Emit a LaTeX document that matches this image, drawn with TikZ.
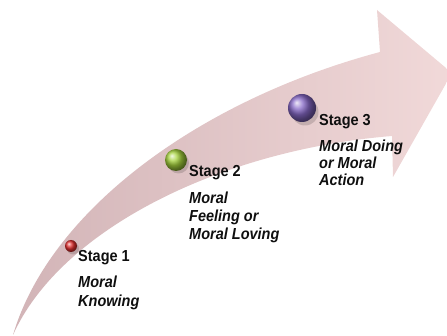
\documentclass[tikz,border=0pt]{standalone}
\usepackage{fontspec}
\setmainfont{Liberation Sans}
\usetikzlibrary{shadings}
\definecolor{arrowdark}{RGB}{210,180,183}
\definecolor{arrowmid}{RGB}{229,203,204}
\definecolor{arrowlight}{RGB}{241,217,217}
\definecolor{txt}{RGB}{15,15,15}
\definecolor{ballred}{RGB}{225,45,45}
\definecolor{ballgreen}{RGB}{165,210,60}
\definecolor{ballpurple}{RGB}{135,105,200}
\tikzset{
  stagetitle/.style={anchor=base west, inner sep=0pt, text=txt, font=\fontsize{14.5}{18}\selectfont\bfseries, yscale=1.1},
  stagetext/.style={anchor=base west, inner sep=0pt, text=txt, font=\fontsize{14.5}{18}\selectfont\bfseries\itshape, yscale=1.1},
  ball/.style={circle, inner sep=0pt, minimum size=#1, shading=ball},
  ballshadow/.style={fill=black, opacity=0.15}
}
\begin{document}
\begin{tikzpicture}[x=1pt, y=-1pt]
\useasboundingbox (0,0) rectangle (447,336);
\begin{scope}
\clip (0,0) rectangle (447,336);
\shade[left color=arrowdark, middle color=arrowmid, right color=arrowlight]
  (13,335) .. controls (50,210) and (200,100) .. (380,52)
  -- (377,10) -- (452,73) -- (393,177) -- (392,136)
  .. controls (220,150) and (60,230) .. (13,335) -- cycle;
\end{scope}
% ball shadows
\fill[ballshadow] (73,248.5) circle (6);
\fill[ballshadow] (178.5,163) circle (10.5);
\fill[ballshadow] (305,112) circle (13.5);
% balls
\node[ball=12pt, ball color=ballred] (b1) at (71,246) {};
\node[ball=22pt, ball color=ballgreen] (b2) at (176,160) {};
\node[ball=28pt, ball color=ballpurple] (b3) at (302,108) {};
% texts
\node[stagetitle] (s1) at (78,262) {Stage 1};
\node[stagetext] (s1a) at (78,288) {Moral};
\node[stagetext] (s1b) at (78,307) {Knowing};
\node[stagetitle] (s2) at (189,177) {Stage 2};
\node[stagetext] (s2a) at (189,204) {Moral};
\node[stagetext] (s2b) at (189,222) {Feeling or};
\node[stagetext] (s2c) at (189,240) {Moral Loving};
\node[stagetitle] (s3) at (319,126) {Stage 3};
\node[stagetext] (s3a) at (319,152) {Moral Doing};
\node[stagetext] (s3b) at (319,169) {or Moral};
\node[stagetext] (s3c) at (319,186) {Action};
\end{tikzpicture}
\end{document}
